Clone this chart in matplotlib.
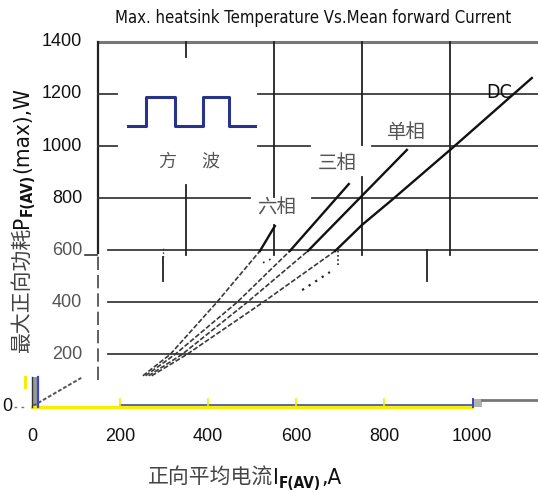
import os
import matplotlib
matplotlib.use("Agg")
import matplotlib.pyplot as plt
from matplotlib import font_manager
from matplotlib.font_manager import FontProperties

# ---- data ----
curve_names = ["六相", "三相", "单相", "DC"]

# faint lower parts (below 600 W), x in A, y in W
six_lo_x = [252, 314, 420, 518]
six_lo_y = [118, 200, 400, 597]
three_lo_x = [258, 325, 466, 586]
three_lo_y = [118, 200, 400, 597]
single_lo_x = [265, 341, 489, 627]
single_lo_y = [118, 200, 400, 597]
dc_lo_x = [272, 352, 525, 689]
dc_lo_y = [118, 200, 400, 597]

# solid upper parts
six_hi_x = [518, 552]
six_hi_y = [597, 693]
three_hi_x = [586, 720]
three_hi_y = [597, 854]
single_hi_x = [627, 852]
single_hi_y = [597, 985]
dc_hi_x = [689, 750, 818, 955, 1136]
dc_hi_y = [597, 697, 793, 992, 1261]

# square wave symbol
wave_x = [218, 259, 259, 325, 325, 389, 389, 448, 448, 507]
wave_y = [1077, 1077, 1188, 1188, 1077, 1077, 1188, 1188, 1077, 1077]

x_ticks = [0, 200, 400, 600, 800, 1000]
y_ticks = [1400, 1200, 1000, 800, 600, 400, 200]

# broken grid pieces of the scanned chart
hgrid = [(1200, 150, 193), (1200, 514, 1150),
         (1000, 150, 193), (1000, 514, 632), (1000, 773, 1150),
         (800, 150, 495), (800, 636, 1150),
         (600, 173, 1150), (400, 173, 1150), (200, 173, 1150)]
vgrid = [(350, 1342, 1400), (350, 580, 850),
         (550, 804, 1400), (550, 580, 697),
         (750, 1004, 1400), (750, 580, 881),
         (950, 580, 1400),
         (298, 480, 575), (898, 480, 600)]

CJK = ["Noto Sans CJK SC", "DejaVu Sans"]
plt.rcParams["font.family"] = ["Liberation Sans", "Noto Sans CJK SC"]


def condensed(bold=False):
    # DejaVu Sans Condensed looks closest to the narrow face of the scan
    want = "DejaVuSansCondensed-Bold.ttf" if bold else "DejaVuSansCondensed.ttf"
    for f in font_manager.fontManager.ttflist:
        if os.path.basename(f.fname) == want:
            return {"fontproperties": FontProperties(fname=f.fname)}
    return {"family": "Liberation Sans", "weight": "bold" if bold else "normal"}


W, H = 538, 490
fig = plt.figure(figsize=(W / 100, H / 100), dpi=100)
ax = fig.add_axes([0, 0, 1, 1])
ax.set_xlim(-72.7, 1150)
ax.set_ylim(-320.5, 1560.5)
ax.axis("off")

# frame and grid
ax.plot([150, 1150], [1400, 1400], color="#777777", lw=2.2)
ax.plot([150, 150], [590, 1400], color="#222222", lw=1.6)
ax.plot([150, 150], [100, 590], color="#444444", lw=1.2, ls=(0, (8, 3)))
ax.plot([120, 148], [582, 582], color="#333333", lw=1.2)
for y, x0, x1 in hgrid:
    ax.plot([x0, x1], [y, y], color="#3a3a3a", lw=1.3)
for x, y0, y1 in vgrid:
    ax.plot([x, x], [y0, y1], color="#222222", lw=1.3)
ax.plot([298, 298], [575, 612], color="#333333", lw=1.0, ls=":")

# curves: faint dashed below, solid above
for xs, ys in [(six_lo_x, six_lo_y), (three_lo_x, three_lo_y),
               (single_lo_x, single_lo_y), (dc_lo_x, dc_lo_y)]:
    ax.plot(xs, ys, color="#3a3a3a", lw=1.2, ls=(0, (3, 1.2)))
for xs, ys in [(six_hi_x, six_hi_y), (three_hi_x, three_hi_y),
               (single_hi_x, single_hi_y), (dc_hi_x, dc_hi_y)]:
    ax.plot(xs, ys, color="#111111", lw=1.7)

# leftover dotted bits
ax.plot([614, 677], [447, 516], color="#222222", lw=1.6, ls=(0, (1, 2.5)))
ax.plot([695, 695], [545, 597], color="#222222", lw=1.2, ls=(0, (1, 1.5)))
ax.plot([525, 548], [552, 570], color="#222222", lw=1.2, ls=(0, (1, 3)))
ax.plot([2, 112], [2, 110], color="#555555", lw=1.4, ls=(0, (2, 1)))

# square wave
ax.plot(wave_x, wave_y, color="#28348a", lw=2.2)

# baseline artefacts
ax.plot([0, 1000], [0, 0], color="#f4f000", lw=2.4)
ax.plot([200, 1000], [6, 6], color="#5058b0", lw=1.3)
for x in x_ticks[1:-1]:
    ax.plot([x, x], [0, 30], color="#f4f000", lw=1.2)
ax.fill_between([1, 11], 0, 113, color="#9a9a9a", lw=0)
ax.plot([0, 0], [0, 113], color="#333333", lw=1.0)
ax.plot([13, 13], [0, 113], color="#3c46c8", lw=1.6)
ax.plot([-16, -16], [75, 113], color="#f4f000", lw=2.2)
ax.fill_between([1000, 1023], 0, 29, color="#b0b0b0", lw=0)
ax.plot([1003, 1003], [0, 29], color="#3c46c8", lw=1.4)
ax.plot([1023, 1150], [25, 25], color="#777777", lw=2.0)
ax.plot([-40, -15], [0, 0], color="#777777", lw=1.0, ls=(0, (2, 3)))

# tick labels
for v in y_ticks:
    c = "#111111" if v > 600 else "#555555"
    ax.text(114, v, str(v), ha="right", va="center", fontsize=13, color=c)
ax.text(-55, 0, "0", ha="center", va="center", fontsize=13, color="#111111")
for v in x_ticks:
    ax.text(v, -117, str(v), ha="center", va="center", fontsize=13, color="#111111")

# curve labels
lab_x = [557, 693, 852, 1061]
lab_y = [762, 935, 1050, 1207]
for name, x, y in zip(curve_names, lab_x, lab_y):
    if name == "DC":
        ax.text(x, y, name, ha="center", va="center", fontsize=14, color="#111111",
                **condensed())
    else:
        ax.text(x, y, name, ha="center", va="center", fontsize=14, color="#555555", family=CJK)
ax.text(307, 939, "方", ha="center", va="center", fontsize=13, color="#555555", family=CJK)
ax.text(405, 939, "波", ha="center", va="center", fontsize=13, color="#555555", family=CJK)

title = fig.text(313 / W, 1 - 18 / H, "Max. heatsink Temperature Vs.Mean forward Current",
                 ha="center", va="center", color="#111111", **condensed())
title.set_fontsize(12)

renderer = fig.canvas.get_renderer()


def chain(parts, x, y, rot=0):
    # parts: (text, size, font kwargs, color, shift in px toward "down" of the text)
    for text, size, fkw, col, shift in parts:
        if rot == 0:
            px, py = x, y - shift
        else:
            px, py = x + shift, y
        t = fig.text(px / W, py / H, text, color=col, rotation=rot,
                     rotation_mode="anchor", ha="left", va="baseline", **fkw)
        t.set_fontsize(size)
        bb = t.get_window_extent(renderer)
        if rot == 0:
            x = bb.x1
        else:
            y = bb.y1


cjk_kw = {"family": CJK}
chain([("正向平均电流", 15, cjk_kw, "#444444", 0),
       ("I", 16, condensed(), "#111111", 0),
       ("F(AV)", 11, condensed(bold=True), "#111111", 4),
       (",A", 16, condensed(), "#111111", 0)],
      148, H - 484)

chain([("最大正向功耗", 15, cjk_kw, "#444444", 0),
       ("P", 16, condensed(), "#111111", 0),
       ("F(AV)", 11, condensed(bold=True), "#111111", 4),
       ("(max),W", 16, condensed(), "#111111", 0)],
      28, H - 353, rot=90)

fig.savefig("out.png", dpi=100)
